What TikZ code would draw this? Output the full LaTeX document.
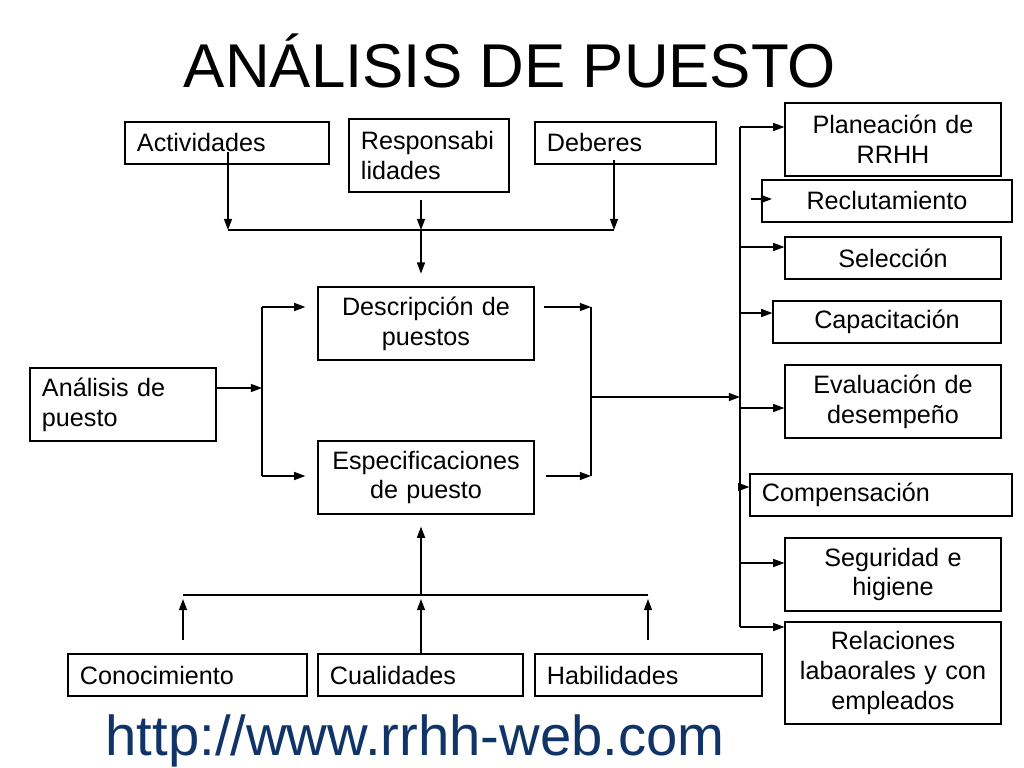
\documentclass[tikz,border=0pt]{standalone}
\usepackage{fontspec}
\setmainfont{Liberation Sans}
\usetikzlibrary{arrows.meta}
\definecolor{azulweb}{RGB}{16,52,104}
\begin{document}
\begin{tikzpicture}[x=0.025cm,y=-0.025cm,
caja/.style={draw,line width=0.8pt,inner xsep=0.3cm,inner ysep=0pt,font=\fontsize{17.9}{21.3}\selectfont},
flecha/.style={-{Triangle[length=0.28cm,width=0.2cm]},line width=1pt},
linea/.style={line width=1pt}]

\useasboundingbox[fill=white] (0,0) rectangle (1024,768);

\node[anchor=base,font=\fontsize{44}{50}\selectfont] (titulo) at (510,88) {ANÁLISIS DE PUESTO};
\node[anchor=base,text=azulweb,font=\fontsize{40}{46}\selectfont] (web) at (415,755) {http://www.rrhh-web.com};

\node[caja,text width=4.5cm,minimum height=1.05cm,align=left] (act) at (227,143) {Actividades};
\node[caja,text width=3.4cm,minimum height=1.825cm,align=left] (resp) at (429,155.5) {Responsabi\\lidades};
\node[caja,text width=3.925cm,minimum height=1.05cm,align=left] (deb) at (625.5,143) {Deberes};

\node[caja,text width=4.8cm,minimum height=1.825cm,align=center] (desc) at (426,323.5) {Descripción de\\puestos};
\node[caja,text width=4.8cm,minimum height=1.825cm,align=center] (esp) at (426,477.5) {Especificaciones\\de puesto};
\node[caja,text width=4.05cm,minimum height=1.825cm,align=left] (ana) at (123,404.5) {Análisis de\\puesto};

\node[caja,text width=5.375cm,minimum height=1.05cm,align=left] (con) at (187.5,675) {Conocimiento};
\node[caja,text width=4.525cm,minimum height=1.05cm,align=left] (cua) at (420.5,675) {Cualidades};
\node[caja,text width=5.075cm,minimum height=1.05cm,align=left] (hab) at (648.5,675) {Habilidades};

\node[caja,text width=4.8cm,minimum height=1.825cm,align=center] (plan) at (893,139.5) {Planeación de\\RRHH};
\node[caja,text width=5.65cm,minimum height=1.05cm,align=center] (rec) at (887,201) {Reclutamiento};
\node[caja,text width=4.8cm,minimum height=1.05cm,align=center] (sel) at (893,258) {Selección};
\node[caja,text width=5.1cm,minimum height=1.05cm,align=center] (cap) at (887,322) {Capacitación};
\node[caja,text width=4.8cm,minimum height=1.825cm,align=center] (eva) at (893,401.5) {Evaluación de\\desempeño};
\node[caja,text width=5.95cm,minimum height=1.05cm,align=left] (comp) at (881,495) {Compensación};
\node[caja,text width=4.8cm,minimum height=1.825cm,align=center] (seg) at (893,574.5) {Seguridad e\\higiene};
\node[caja,text width=4.8cm,minimum height=2.55cm,align=center] (rel) at (893,673) {Relaciones\\labaorales y con\\empleados};

\coordinate (sa) at (228,152);
\coordinate (sr) at (421,200);
\coordinate (sd) at (614,160);
\coordinate (ja) at (228,230);
\coordinate (jr) at (421,230);
\coordinate (jd) at (614,230);
\draw[flecha] (sa) -- (ja);
\draw[flecha] (sr) -- (jr);
\draw[flecha] (sd) -- (jd);
\draw[linea] (ja) -- (jd);
\draw[flecha,shorten >=0.32cm] (jr) -- (desc.north -| jr);

\coordinate (jan) at (262,388);
\coordinate (jdu) at (262,307);
\coordinate (jdd) at (262,476);
\draw[flecha] (ana.east |- jan) -- (jan);
\draw[linea] (jdu) -- (jdd);
\draw[flecha,shorten >=0.3cm] (jdu) -- (desc.west |- jdu);
\draw[flecha,shorten >=0.3cm] (jdd) -- (esp.west |- jdd);

\coordinate (jru) at (591,307);
\coordinate (jrd) at (591,476);
\coordinate (jm) at (591,397);
\coordinate (jv) at (740,397);
\draw[flecha,shorten <=0.225cm] (desc.east |- jru) -- (jru);
\draw[flecha,shorten <=0.275cm] (esp.east |- jrd) -- (jrd);
\draw[linea] (jru) -- (jrd);
\draw[flecha] (jm) -- (jv);

\coordinate (vt) at (740,127);
\coordinate (vb) at (740,627);
\draw[linea] (vt) -- (vb);
\draw[flecha] (vt) -- (plan.west |- vt);
\coordinate (srec) at (751,199);
\coordinate (erec) at (772,199);
\draw[flecha] (srec) -- (erec);
\draw[flecha] (740,247) -- (sel.west |- 0,247);
\draw[flecha] (740,313) -- (cap.west |- 0,313);
\draw[flecha] (740,408) -- (eva.west |- 0,408);
\draw[flecha] (740,487) -- (comp.west |- 0,487);
\draw[flecha] (740,563) -- (seg.west |- 0,563);
\draw[flecha] (vb) -- (rel.west |- vb);

\coordinate (jbl) at (183,595);
\coordinate (jb) at (421,595);
\coordinate (jbr) at (648,595);
\coordinate (sc) at (183,640);
\coordinate (sh) at (648,640);
\draw[linea] (jbl) -- (jbr);
\draw[flecha,shorten >=0.3cm] (jb) -- (esp.south -| jb);
\draw[flecha,shorten >=0.1cm] (sc) -- (jbl);
\draw[flecha,shorten >=0.1cm] (cua.north -| jb) -- (jb);
\draw[flecha,shorten >=0.1cm] (sh) -- (jbr);
\end{tikzpicture}
\end{document}
